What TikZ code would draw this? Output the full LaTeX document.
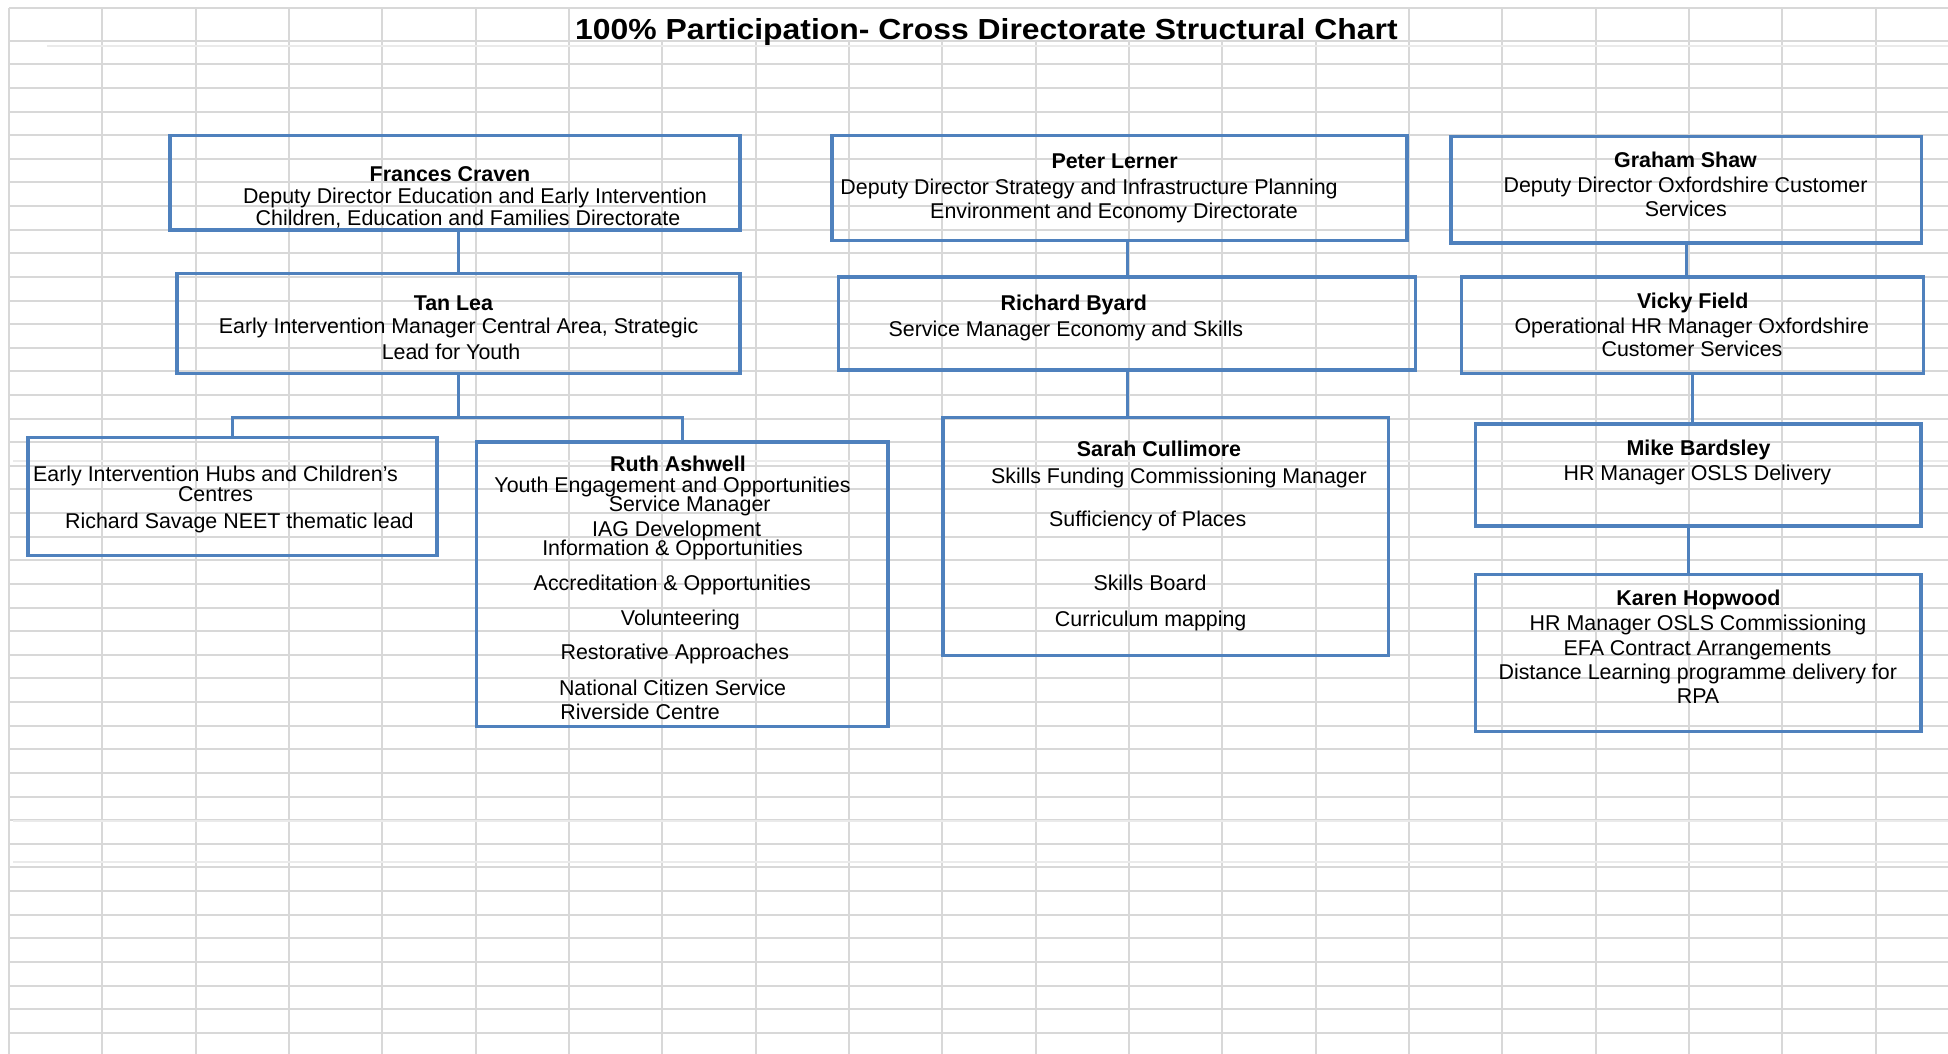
\documentclass[tikz,border=0pt]{standalone}
\usepackage{fontspec}
\setmainfont{Liberation Sans}
\usepackage{tikz}
\tikzset{every picture/.style={line width=0.75pt}}
\definecolor{boxblue}{RGB}{79,129,189}
\definecolor{gridgrey}{RGB}{216,216,216}
\definecolor{gridfaint}{RGB}{234,234,234}

\begin{document}
\begin{tikzpicture}[x=0.5pt,y=0.5pt,yscale=-1,xscale=1,
  box/.style={draw=boxblue,line width=1.75pt,inner sep=0pt,rectangle},
  link/.style={draw=boxblue,line width=1.5pt},
  gridline/.style={draw=gridgrey,line width=1pt},
  txt/.style={inner sep=0pt,anchor=base,font=\fontsize{10.7}{12}\selectfont},
  who/.style={txt,font=\fontsize{10.7}{12}\selectfont\bfseries}]
\useasboundingbox (0,0) rectangle (1948,1054);

%Sheet grid
\draw[gridline] (9,8.3) -- (1948,8.3);
\foreach \k in {0,...,42}
  \draw[gridline] (9,{40.7+23.62*\k}) -- (1948,{40.7+23.62*\k});
\foreach \k in {0,...,6}
  \draw[gridline] ({9+93.33*\k},8.3) -- ({9+93.33*\k},1054);
\foreach \k in {15,...,20}
  \draw[gridline] ({9+93.33*\k},8.3) -- ({9+93.33*\k},1054);
\foreach \k in {7,...,14}
  \draw[gridline] ({9+93.33*\k},40.7) -- ({9+93.33*\k},1054);
\draw[gridline,draw=gridfaint] (47,45.7) -- (1948,45.7);
\foreach \y in {461,820.7,862.3}
  \draw[gridline,draw=gridfaint] (13,\y) -- (1948,\y);

% Text Node
\node[inner sep=0pt,anchor=base,xscale=1.1,font=\fontsize{14.5}{16}\selectfont\bfseries] (title) at (986.5,40) {100\% Participation- Cross Directorate Structural Chart};

%Shape: Rectangle
\node[box,minimum width=285pt,minimum height=47.25pt] (frances) at (455,182.75) {};
%Shape: Rectangle
\node[box,minimum width=281.5pt,minimum height=50pt] (tan) at (458.5,323.5) {};
%Shape: Rectangle
\node[box,minimum width=204.5pt,minimum height=58.9pt] (hubs) at (232.5,496.6) {};
%Shape: Rectangle
\node[box,minimum width=205.65pt,minimum height=142.35pt] (ruth) at (682.3,584.3) {};
%Shape: Rectangle
\node[box,minimum width=287.5pt,minimum height=52.4pt] (peter) at (1119.5,188) {};
%Shape: Rectangle
\node[box,minimum width=288.35pt,minimum height=46.6pt] (richard) at (1127,323.6) {};
%Shape: Rectangle
\node[box,minimum width=222.8pt,minimum height=118.9pt] (sarah) at (1165.8,536.6) {};
%Shape: Rectangle
\node[box,minimum width=235.35pt,minimum height=53.4pt] (graham) at (1686.2,189.7) {};
%Shape: Rectangle
\node[box,minimum width=230.8pt,minimum height=48.3pt] (vicky) at (1692.5,325.3) {};
%Shape: Rectangle
\node[box,minimum width=222.75pt,minimum height=50.8pt] (mike) at (1698,475) {};
%Shape: Rectangle
\node[box,minimum width=222.75pt,minimum height=78.4pt] (karen) at (1698,653.1) {};

%Straight Lines
\draw[link] (frances.south -| tan.north) -- (tan.north);
\coordinate (split) at (458.5,417.5);
\draw[link] (tan.south) -- (split);
\draw[link] (hubs.north) |- (split) -| (ruth.north);
%Straight Lines
\draw[link] (peter.south -| richard.north) -- (richard.north);
\draw[link] (richard.south) -- (richard.south |- sarah.north);
%Straight Lines
\draw[link] (graham.south) -- (graham.south |- vicky.north);
\draw[link] (vicky.south) -- (vicky.south |- mike.north);
\draw[link] ([xshift=-5pt]mike.south) -- ([xshift=-5pt]karen.north);

% Text Node
\node[who] (fc1) at (450,181) {Frances Craven};
\node[txt] (fc2) at (475,203) {Deputy Director Education and Early Intervention};
\node[txt] (fc3) at (468,225) {Children, Education and Families Directorate};
% Text Node
\node[who] (tl1) at (453.4,310.3) {Tan Lea};
\node[txt] (tl2) at (458.6,333) {Early Intervention Manager Central Area, Strategic};
\node[txt] (tl3) at (451,359) {Lead for Youth};
% Text Node
\node[txt] (eh1) at (215.5,481.7) {Early Intervention Hubs and Children's};
\node[txt] (eh2) at (215.5,501.7) {Centres};
\node[txt] (eh3) at (239.4,528.3) {Richard Savage NEET thematic lead};
% Text Node
\node[who] (ra1) at (678,471) {Ruth Ashwell};
\node[txt] (ra2) at (672.5,492.7) {Youth Engagement and Opportunities};
\node[txt] (ra3) at (689.7,511) {Service Manager};
\node[txt] (ra4) at (676.6,536.7) {IAG Development};
\node[txt] (ra5) at (672.5,555) {Information \& Opportunities};
\node[txt] (ra6) at (672.3,590) {Accreditation \& Opportunities};
\node[txt] (ra7) at (680.4,625) {Volunteering};
\node[txt] (ra8) at (674.8,659.3) {Restorative Approaches};
\node[txt] (ra9) at (672.6,695.3) {National Citizen Service};
\node[txt,anchor=base west] (ra10) at (559.7,719) {Riverside Centre};
% Text Node
\node[who] (pl1) at (1114.6,169) {Peter Lerner};
\node[txt] (pl2) at (1089,194.4) {Deputy Director Strategy and Infrastructure Planning};
\node[txt] (pl3) at (1114,218) {Environment and Economy Directorate};
% Text Node
\node[who] (rb1) at (1073.8,310.4) {Richard Byard};
\node[txt] (rb2) at (1065.8,336.4) {Service Manager Economy and Skills};
% Text Node
\node[who] (sc1) at (1159,456) {Sarah Cullimore};
\node[txt] (sc2) at (1179,483.3) {Skills Funding Commissioning Manager};
\node[txt] (sc3) at (1147.7,526.7) {Sufficiency of Places};
\node[txt] (sc4) at (1150,590.7) {Skills Board};
\node[txt] (sc5) at (1150.7,626.7) {Curriculum mapping};
% Text Node
\node[who] (gs1) at (1685.5,167.3) {Graham Shaw};
\node[txt] (gs2) at (1685.5,192.7) {Deputy Director Oxfordshire Customer};
\node[txt] (gs3) at (1685.8,216.4) {Services};
% Text Node
\node[who] (vf1) at (1692.7,308.3) {Vicky Field};
\node[txt] (vf2) at (1691.8,333) {Operational HR Manager Oxfordshire};
\node[txt] (vf3) at (1692,356.7) {Customer Services};
% Text Node
\node[who] (mb1) at (1698.5,455) {Mike Bardsley};
\node[txt] (mb2) at (1697.4,480) {HR Manager OSLS Delivery};
% Text Node
\node[who] (kh1) at (1698.5,605) {Karen Hopwood};
\node[txt] (kh2) at (1698,630) {HR Manager OSLS Commissioning};
\node[txt] (kh3) at (1697.4,655) {EFA Contract Arrangements};
\node[txt] (kh4) at (1697.8,679.3) {Distance Learning programme delivery for};
\node[txt] (kh5) at (1698,703.3) {RPA};
\end{tikzpicture}
\end{document}
